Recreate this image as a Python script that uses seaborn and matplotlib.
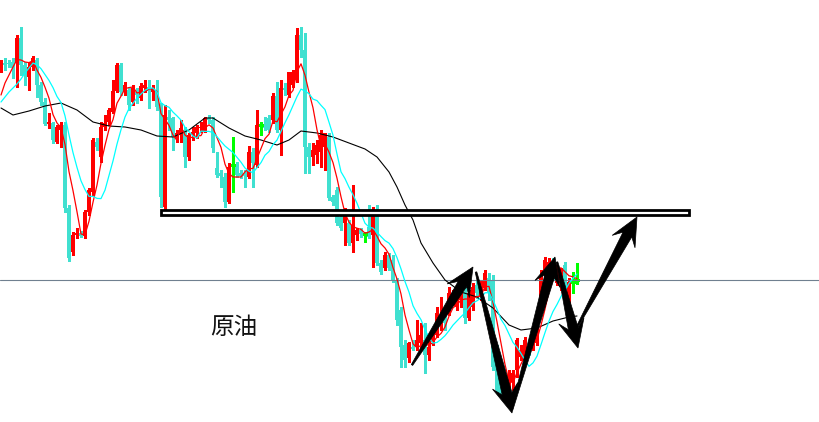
import numpy as np
import pandas as pd
import matplotlib
matplotlib.use("Agg")
import matplotlib.pyplot as plt
from matplotlib.patches import Polygon, Rectangle
from matplotlib.transforms import IdentityTransform
import seaborn as sns

# ---------------------------------------------------------------------------
# Data (daily candles)
# ---------------------------------------------------------------------------
opens = [
    83.2, 83.7, 83.7, 83.8, 83.7, 86.2, 83.5, 82.3, 83.3, 84.0,
    81.5, 79.8, 77.6, 77.7, 75.8, 77.0, 77.5, 69.2, 64.8, 66.5,
    66.7, 66.4, 68.8, 70.8, 75.8, 74.3, 77.3, 77.8, 78.8, 80.9,
    83.5, 80.8, 81.0, 79.8, 80.8, 80.2, 81.2, 81.3, 80.8, 81.0,
    79.3, 69.3, 78.3, 78.2, 76.2, 76.5, 77.0, 74.3, 76.5, 76.7,
    77.2, 77.0, 78.2, 78.0, 73.2, 72.7, 72.3, 69.8, 73.5, 73.5,
    72.7, 72.7, 72.3, 74.8, 73.5, 77.5, 77.4, 78.2, 78.0, 80.4,
    77.0, 81.2, 80.5, 81.5, 82.0, 86.5, 85.0, 75.3, 74.3, 74.5,
    74.8, 75.3, 76.3, 70.3, 71.0, 68.3, 67.7, 67.7, 65.7, 66.5,
    67.0, 66.6, 67.3, 66.5, 68.7, 63.7, 63.2, 64.5, 64.0, 62.0,
    59.0, 55.5, 54.2, 55.3, 55.3, 55.7, 56.0, 54.5, 55.8, 56.5,
    57.7, 58.3, 58.7, 60.2, 59.3, 60.0, 60.7, 58.2, 59.3, 61.5,
    60.3, 61.2, 62.2, 62.0, 55.0, 52.0, 51.0, 51.5, 51.8, 53.0,
    54.3, 54.3, 55.3, 55.3, 55.7, 59.0, 63.0, 63.0, 63.7, 61.7,
    61.7, 63.5, 60.0, 61.8, 62.0,
]
highs = [
    84.0, 84.2, 84.0, 84.2, 86.5, 87.3, 83.8, 83.8, 84.4, 84.2,
    81.8, 80.2, 78.7, 77.8, 77.5, 77.8, 77.8, 69.5, 66.8, 67.2,
    66.9, 69.0, 71.2, 76.2, 76.2, 77.8, 78.5, 79.2, 82.0, 83.7,
    83.7, 81.8, 81.3, 81.5, 81.2, 81.7, 82.0, 82.0, 81.5, 82.0,
    79.7, 79.5, 79.0, 78.3, 77.0, 78.0, 77.3, 76.7, 77.3, 77.5,
    77.8, 78.3, 78.5, 78.3, 74.8, 73.0, 72.7, 73.7, 76.3, 73.8,
    73.0, 73.0, 75.4, 75.2, 79.0, 77.8, 78.3, 78.5, 80.7, 81.8,
    82.0, 81.7, 82.8, 83.0, 87.2, 87.3, 86.7, 75.7, 75.7, 76.0,
    77.0, 76.7, 76.7, 70.5, 71.3, 68.5, 69.2, 68.0, 71.5, 67.2,
    67.2, 66.8, 69.5, 69.3, 69.5, 64.0, 64.8, 64.7, 64.5, 62.2,
    59.3, 56.0, 55.8, 56.0, 58.0, 57.7, 57.7, 56.0, 57.0, 59.3,
    60.3, 59.0, 61.3, 61.0, 60.5, 61.0, 61.3, 61.0, 61.7, 62.0,
    62.0, 63.0, 62.7, 62.5, 55.5, 52.2, 52.5, 53.0, 53.0, 56.2,
    55.5, 56.3, 56.0, 57.0, 58.0, 63.0, 64.3, 64.2, 64.2, 63.5,
    63.2, 63.8, 62.2, 62.8, 63.7,
]
lows = [
    82.8, 83.0, 83.3, 82.2, 81.3, 82.5, 81.5, 81.0, 83.0, 80.3,
    79.5, 77.5, 77.2, 75.7, 75.7, 75.3, 68.8, 63.9, 64.5, 66.2,
    66.3, 66.2, 68.5, 70.5, 75.0, 73.8, 77.0, 77.5, 78.7, 80.8,
    80.5, 80.5, 79.0, 79.5, 79.7, 80.0, 80.8, 79.2, 80.0, 79.0,
    69.3, 68.7, 77.0, 75.0, 75.8, 75.8, 73.3, 74.0, 76.0, 76.2,
    76.8, 76.8, 77.7, 74.8, 72.3, 71.3, 69.3, 69.7, 70.8, 72.3,
    72.2, 71.3, 72.2, 71.3, 73.3, 76.5, 77.0, 76.8, 77.7, 76.8,
    74.5, 80.5, 80.3, 81.3, 81.8, 84.3, 72.7, 72.7, 73.5, 73.7,
    73.3, 73.0, 70.0, 69.5, 67.5, 67.0, 65.5, 65.5, 64.8, 66.0,
    66.3, 65.8, 66.2, 63.3, 63.5, 62.6, 63.0, 63.0, 61.8, 57.5,
    53.3, 53.3, 53.8, 55.0, 55.0, 55.0, 52.7, 54.0, 55.5, 56.3,
    57.0, 57.0, 58.5, 59.5, 59.0, 59.3, 57.7, 58.0, 59.0, 60.2,
    60.0, 61.0, 60.0, 53.0, 50.8, 50.5, 50.5, 50.8, 51.0, 52.3,
    54.0, 54.0, 54.5, 55.0, 55.5, 58.7, 62.3, 62.5, 62.0, 61.5,
    61.0, 61.3, 59.7, 60.7, 61.6,
]
closes = [
    83.7, 83.5, 83.6, 83.2, 86.2, 83.5, 82.5, 83.3, 84.2, 81.5,
    79.8, 77.6, 77.8, 76.0, 77.3, 77.5, 69.2, 64.2, 66.5, 66.7,
    66.4, 68.8, 71.0, 76.0, 75.3, 77.3, 77.7, 79.0, 80.9, 83.5,
    80.8, 81.5, 79.5, 81.2, 80.5, 81.4, 81.5, 80.9, 81.2, 79.3,
    70.3, 78.5, 78.0, 76.3, 76.7, 77.2, 74.3, 76.5, 76.8, 77.3,
    77.3, 78.2, 78.0, 75.2, 72.5, 72.4, 69.8, 73.3, 73.5, 72.5,
    72.4, 72.4, 74.8, 73.7, 77.5, 77.5, 77.2, 77.0, 80.4, 77.0,
    81.2, 81.0, 82.8, 82.8, 86.5, 85.0, 75.3, 74.3, 75.0, 75.5,
    76.5, 76.7, 70.2, 69.8, 67.7, 67.2, 68.5, 65.7, 67.5, 67.0,
    66.6, 66.6, 66.3, 68.7, 63.7, 62.8, 64.5, 63.2, 62.0, 58.0,
    55.3, 54.0, 55.7, 55.1, 56.0, 56.5, 54.5, 55.3, 56.5, 58.7,
    58.3, 57.7, 60.7, 60.7, 60.2, 60.7, 58.2, 60.7, 61.3, 60.7,
    61.3, 62.7, 60.8, 53.3, 51.0, 50.7, 52.0, 52.3, 52.7, 56.0,
    55.0, 56.0, 54.7, 56.7, 57.7, 62.3, 64.0, 63.8, 62.3, 63.0,
    63.0, 62.0, 61.8, 61.8, 62.0,
]

# moving averages at the left edge (earlier history is off-screen)
ma5_head = [80.5, 81.7, 82.5, 83.3]
ma10_head = [79.8, 80.3, 80.8, 81.2, 81.6, 82.1, 82.7, 83.2, 83.7]

# long moving average (black), sampled along the chart
ma_long_idx = [0, 3, 7, 11, 15, 19, 23, 27, 31, 35, 39, 43, 47, 51, 53, 57,
               61, 65, 69, 72, 75, 79, 83, 87, 91, 94, 97, 99, 101, 103, 105,
               108, 111, 115, 119, 123, 127, 130, 134, 138, 142, 144]
ma_long_val = [79.2, 78.5, 78.9, 79.4, 79.7, 79.0, 77.8, 77.4, 77.3, 77.0,
               76.4, 76.3, 77.0, 78.2, 78.2, 77.2, 76.4, 76.0, 75.5, 76.0,
               76.9, 76.7, 76.3, 75.7, 75.1, 74.3, 72.8, 71.3, 69.5, 68.0,
               65.7, 63.7, 62.0, 60.8, 60.3, 59.2, 57.5, 57.0, 57.2, 57.9,
               58.3, 58.4]

support_level = 62.0
target_zone = (40.0, 172.0, 68.53, 69.03)   # x0, x1, y0, y1
# hand-drawn path arrows: (tail_x, tail_y, tip_x, tip_y)
arrows = [
    (102.75, 53.5, 118.0, 63.3),
    (118.75, 62.8, 127.75, 48.7),
    (127.75, 49.0, 138.5, 64.3),
    (139.0, 63.8, 144.25, 55.2),
    (144.0, 57.3, 159.0, 68.3),
]
label_text = "原油"
label_pos = (58.1, 57.25)

UP_COLOR = "#FF0000"
DOWN_COLOR = "#40E0D0"
DOJI_COLOR = "#00FF00"

sns.set_style("white")
plt.rcParams["font.family"] = ["Noto Sans CJK SC", "DejaVu Sans"]

df = pd.DataFrame({"open": opens, "high": highs, "low": lows, "close": closes})
df["idx"] = np.arange(len(df))

ma5 = df["close"].rolling(5).mean()
ma5.iloc[:len(ma5_head)] = ma5_head
ma10 = df["close"].rolling(10).mean()
ma10.iloc[:len(ma10_head)] = ma10_head

ma_df = pd.concat([
    pd.DataFrame({"idx": df["idx"], "value": ma5, "ma": "MA5"}),
    pd.DataFrame({"idx": df["idx"], "value": ma10, "ma": "MA10"}),
])
long_df = pd.DataFrame({"idx": ma_long_idx, "value": ma_long_val})

fig = plt.figure(figsize=(8.2, 4.22), dpi=100)
ax = fig.add_axes([0, 0, 1, 1])

# candles
def candle_color(o, c):
    if c > o:
        return UP_COLOR
    if c < o:
        return DOWN_COLOR
    return DOJI_COLOR

colors = [candle_color(o, c) for o, c in zip(df["open"], df["close"])]
ax.vlines(df["idx"], df["low"], df["high"], colors=colors, lw=0.75,
          antialiased=False, zorder=2)
body_lo = np.minimum(df["open"], df["close"])
body_h = (df["close"] - df["open"]).abs()
ax.bar(df["idx"], body_h, bottom=body_lo, width=0.78, color=colors,
       linewidth=0, antialiased=False, zorder=2)
doji = df[df["open"] == df["close"]]
ax.hlines(doji["close"], doji["idx"] - 0.45, doji["idx"] + 0.45,
          colors=DOJI_COLOR, lw=0.75, antialiased=False, zorder=2)

ax.axhline(support_level, color="#708090", lw=0.8, zorder=2.5)

# moving averages
sns.lineplot(data=long_df, x="idx", y="value", color="black", lw=0.8,
             ax=ax, zorder=3)
sns.lineplot(data=ma_df, x="idx", y="value", hue="ma",
             palette={"MA5": "#FF0000", "MA10": "#00FFFF"},
             lw=0.9, legend=False, errorbar=None, ax=ax, zorder=3)
ax.set_xlim(-0.25, 204.75)
ax.set_ylim(47.8, 90.0)
ax.axis("off")

# resistance box
x0, x1, y0, y1 = target_zone
ax.add_patch(Rectangle((x0, y0), x1 - x0, y1 - y0, facecolor="white",
                       edgecolor="black", lw=2.0, zorder=5))

# tapered arrows drawn in pixel space
def draw_arrow(tail, tip):
    t = ax.transData.transform(tail)
    p = ax.transData.transform(tip)
    d = p - t
    u = d / np.hypot(*d)
    n = np.array([-u[1], u[0]])
    head_len, head_half, shaft_half, notch = 28, 13, 5, 8
    base = p - u * head_len
    neck = p - u * (head_len - notch)
    pts = [t + n * 0.8, neck + n * shaft_half, base + n * head_half, p,
           base - n * head_half, neck - n * shaft_half, t - n * 0.8]
    fig.add_artist(Polygon(pts, closed=True, transform=IdentityTransform(),
                           facecolor="black", edgecolor="black", lw=0.5,
                           zorder=6))

for tx, ty, hx, hy in arrows:
    draw_arrow((tx, ty), (hx, hy))

ax.text(label_pos[0], label_pos[1], label_text, fontsize=17, color="#111111",
        ha="center", va="center", zorder=7)

fig.savefig("out.png", dpi=100)
